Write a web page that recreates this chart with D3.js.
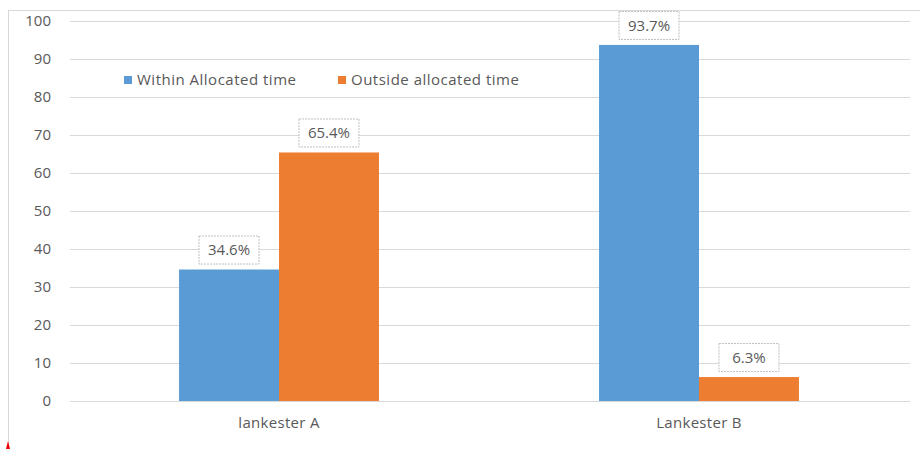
<!DOCTYPE html>
<html><head><meta charset="utf-8">
<script src="https://cdn.jsdelivr.net/npm/d3@7"></script>
<style>body{margin:0;background:#fff}svg{display:block}text{font-family:"Open Sans",sans-serif}</style>
</head><body><svg id="c" width="920" height="449"></svg>
<script>
const categories = ["lankester A", "Lankester B"];
const seriesNames = ["Within Allocated time", "Outside allocated time"];
const within = [34.6, 93.7];
const outside = [65.4, 6.3];
const yTicks = [0,10,20,30,40,50,60,70,80,90,100];
const colors = ["#5b9bd5", "#ed7d31"];
const FS = "15px";

const svg = d3.select("#c");
// outer border
svg.append("line").attr("x1",8).attr("x2",920).attr("y1",10.5).attr("y2",10.5).attr("stroke","#d9d9d9");
svg.append("line").attr("x1",8.5).attr("x2",8.5).attr("y1",10).attr("y2",449).attr("stroke","#d9d9d9");
svg.append("path").attr("d","M6,449 L8,441 L10,449 Z").attr("fill","#e00");

const x = d3.scaleBand().domain(categories).range([69,909]).paddingInner(0.524).paddingOuter(0.262);
const y = d3.scaleLinear().domain([0,100]).range([401,21]);
const xs = d3.scaleBand().domain([0,1]).range([0, x.bandwidth()]);

const g = svg.append("g");
g.selectAll(".grid").data(yTicks).join("line")
  .attr("x1",70).attr("x2",910)
  .attr("y1",d=>Math.round(y(d))+0.5).attr("y2",d=>Math.round(y(d))+0.5)
  .attr("stroke","#d9d9d9").attr("stroke-width",1);

const yAxis = d3.axisLeft(y).tickValues(yTicks).tickSize(0).tickPadding(0);
const ya = svg.append("g").attr("transform","translate(51,0)").call(yAxis);
ya.select(".domain").remove();
ya.selectAll("text").attr("fill","#595959").style("font-size",FS).style("font-family","Open Sans");

const data = [];
categories.forEach((c,i)=>{
  data.push({c, s:0, v:within[i]});
  data.push({c, s:1, v:outside[i]});
});
svg.selectAll(".bar").data(data).join("rect")
  .attr("x",d=>x(d.c)+xs(d.s)).attr("width",xs.bandwidth())
  .attr("y",d=>y(d.v)).attr("height",d=>y(0)-y(d.v))
  .attr("fill",d=>colors[d.s]);

const lab = svg.selectAll(".lab").data(data).join("g")
  .attr("transform",d=>`translate(${x(d.c)+xs(d.s)+xs.bandwidth()/2},${y(d.v)-19.5})`);
lab.append("rect").attr("x",-30).attr("y",-14).attr("width",60).attr("height",28)
  .attr("fill","#fff").attr("stroke","#bfbfbf").attr("stroke-dasharray","2,1");
lab.append("text").attr("text-anchor","middle").attr("dy","0.35em")
  .attr("fill","#595959").style("font-size",FS).text(d=>d.v.toFixed(1)+"%");

const xAxis = d3.axisBottom(x).tickSize(0).tickPadding(0);
const xa = svg.append("g").attr("transform","translate(0,417)").call(xAxis);
xa.select(".domain").remove();
xa.selectAll("text").attr("fill","#595959").style("font-size",FS).style("font-family","Open Sans").style("letter-spacing","0.3px");

const legX = [124, 338];
const leg = svg.selectAll(".leg").data(seriesNames).join("g")
  .attr("transform",(d,i)=>`translate(${legX[i]},80)`);
leg.append("rect").attr("x",0).attr("y",-4).attr("width",8).attr("height",8).attr("fill",(d,i)=>colors[i]);
leg.append("text").attr("x",13).attr("dy","0.35em").attr("fill","#595959").style("font-size",FS).style("letter-spacing","0.5px").text(d=>d);
</script></body></html>
